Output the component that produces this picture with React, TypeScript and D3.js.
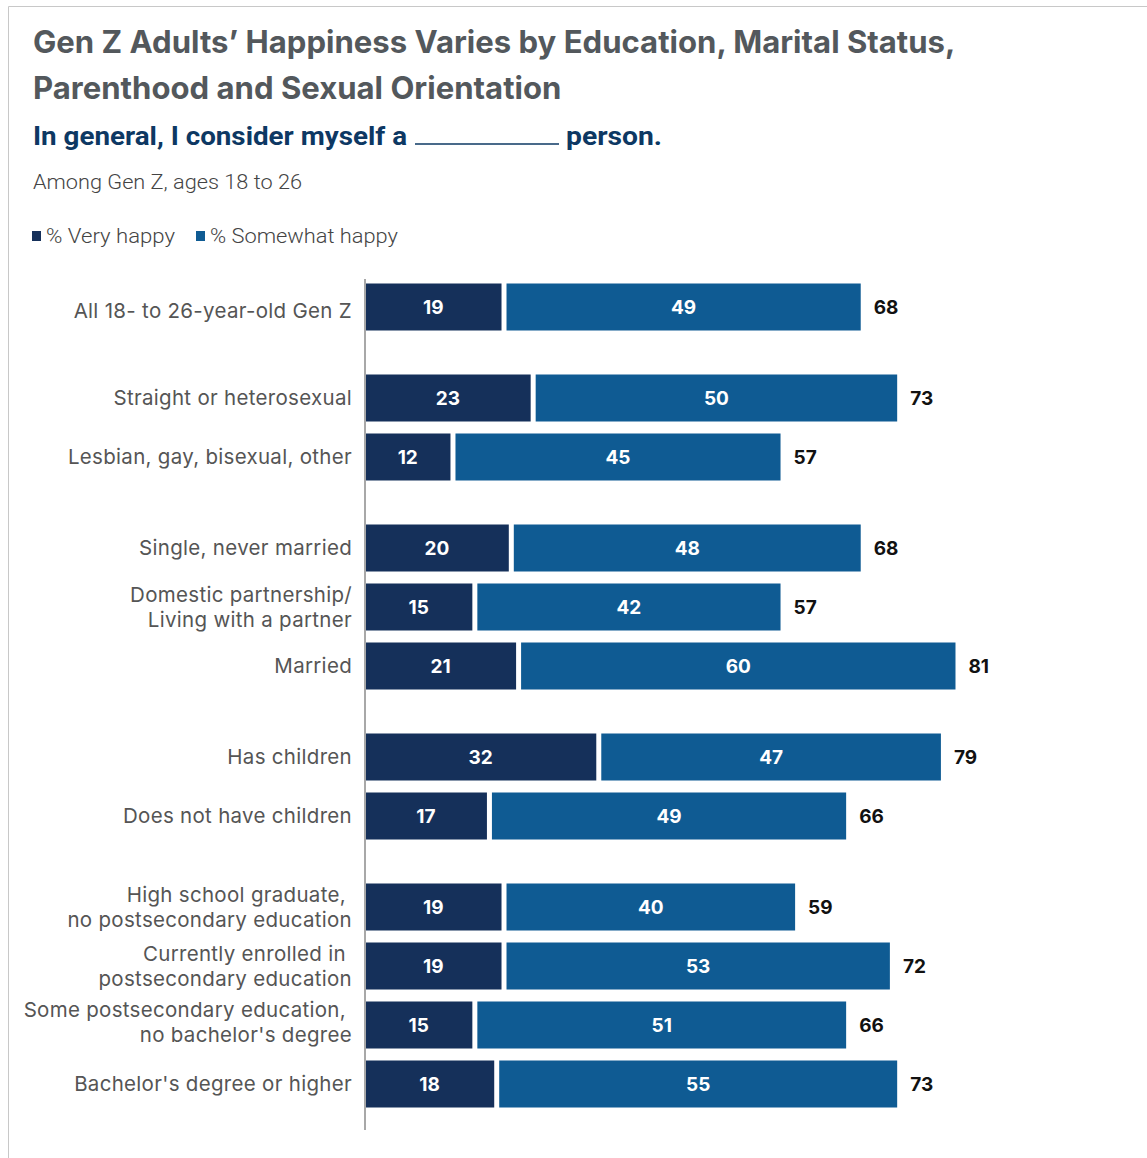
import React from "react";
import * as d3 from "d3";

const categories: string[][] = [
  ["All 18- to 26-year-old Gen Z"],
  ["Straight or heterosexual"],
  ["Lesbian, gay, bisexual, other"],
  ["Single, never married"],
  ["Domestic partnership/", "Living with a partner"],
  ["Married"],
  ["Has children"],
  ["Does not have children"],
  ["High school graduate, ", "no postsecondary education"],
  ["Currently enrolled in ", "postsecondary education"],
  ["Some postsecondary education, ", "no bachelor's degree"],
  ["Bachelor's degree or higher"],
];
const groups = [0, 1, 1, 2, 2, 2, 3, 3, 4, 4, 4, 4];
const veryHappy = [19, 23, 12, 20, 15, 21, 32, 17, 19, 19, 15, 18];
const somewhatHappy = [49, 50, 45, 48, 42, 60, 47, 49, 40, 53, 51, 55];
const totals = [68, 73, 57, 68, 57, 81, 79, 66, 59, 72, 66, 73];
const legendLabels = ["% Very happy", "% Somewhat happy"];

const DARK = "#15305a";
const BLUE = "#0f5b93";

export default function App() {
  const W = 1147;
  const H = 1158;
  const x0 = 365;
  const x = d3.scaleLinear().domain([0, 100]).range([x0, x0 + 729]);
  const rowStep = 59;
  const groupGap = 32;
  const y = (i: number) => 307 + i * rowStep + groups[i] * groupGap;
  const barH = 47;
  const labelFont = "Inter, 'Noto Sans', sans-serif";

  return (
    <svg width={W} height={H} style={{ position: "absolute", left: 0, top: 0 }}>
      <rect x={0} y={0} width={W} height={H} fill="#fff" />
      <line x1={8.5} y1={6.5} x2={W} y2={6.5} stroke="#c8c8c8" strokeWidth={1} />
      <line x1={8.5} y1={6.5} x2={8.5} y2={H} stroke="#c8c8c8" strokeWidth={1} />

      <text x={33} y={53} fontFamily={labelFont} fontWeight={700} fontSize={31.1} fill="#53585c">
        Gen Z Adults’ Happiness Varies by Education, Marital Status,
      </text>
      <text x={33} y={99} fontFamily={labelFont} fontWeight={700} fontSize={31.1} fill="#53585c">
        Parenthood and Sexual Orientation
      </text>

      <text x={33} y={145} fontFamily="Roboto, sans-serif" fontWeight={700} fontSize={25} fill="#0d3863"
        textLength={374} lengthAdjust="spacingAndGlyphs">
        In general, I consider myself a
      </text>
      <line x1={415} x2={559} y1={144} y2={144} stroke="#0d3863" strokeWidth={1.5} />
      <text x={566} y={145} fontFamily="Roboto, sans-serif" fontWeight={700} fontSize={25} fill="#0d3863"
        textLength={96} lengthAdjust="spacingAndGlyphs">
        person.
      </text>

      <text x={33} y={189} fontFamily="Roboto, sans-serif" fontWeight={300} fontSize={20} fill="#444"
        textLength={269} lengthAdjust="spacingAndGlyphs">
        Among Gen Z, ages 18 to 26
      </text>

      <rect x={32} y={231} width={9} height={10} fill={DARK} />
      <text x={46} y={243} fontFamily="Roboto, sans-serif" fontWeight={300} fontSize={20} fill="#444"
        textLength={129} lengthAdjust="spacingAndGlyphs">
        {legendLabels[0]}
      </text>
      <rect x={196} y={231} width={9} height={10} fill={BLUE} />
      <text x={210} y={243} fontFamily="Roboto, sans-serif" fontWeight={300} fontSize={20} fill="#444"
        textLength={188} lengthAdjust="spacingAndGlyphs">
        {legendLabels[1]}
      </text>

      {categories.map((lines, i) => {
        const cy = y(i);
        const v1 = veryHappy[i];
        const v2 = somewhatHappy[i];
        const t = totals[i];
        const xa = x(0);
        const xb = x(v1);
        const xc = x(v1 + v2);
        return (
          <g key={i}>
            <rect x={xa} y={cy - barH / 2} width={xb - xa - 2} height={barH} fill={DARK} />
            <rect x={xb + 3} y={cy - barH / 2} width={xc - xb - 3} height={barH} fill={BLUE} />
            <text x={(xa + xb - 2) / 2} y={cy + 7} textAnchor="middle" fontFamily={labelFont} fontWeight={700} fontSize={19} fill="#fff">
              {v1}
            </text>
            <text x={(xb + 3 + xc) / 2} y={cy + 7} textAnchor="middle" fontFamily={labelFont} fontWeight={700} fontSize={19} fill="#fff">
              {v2}
            </text>
            <text x={x(t) + 13} y={cy + 7} fontFamily={labelFont} fontWeight={700} fontSize={19} fill="#111">
              {t}
            </text>
            {lines.map((ln, k) => (
              <text
                key={k}
                x={352}
                y={cy + 7 + (lines.length === 1 ? (i === 0 ? 4 : 0) : (k - 0.5) * 25 + (i === 10 ? -3 : 0))}
                textAnchor="end"
                fontFamily={labelFont}
                fontSize={20.5}
                letterSpacing={0.3}
                fill="#555"
                style={{ whiteSpace: "pre" }}
              >
                {ln}
              </text>
            ))}
          </g>
        );
      })}

      <line x1={365} x2={365} y1={279} y2={1130} stroke="#a8a8a8" strokeWidth={2} />
    </svg>
  );
}
